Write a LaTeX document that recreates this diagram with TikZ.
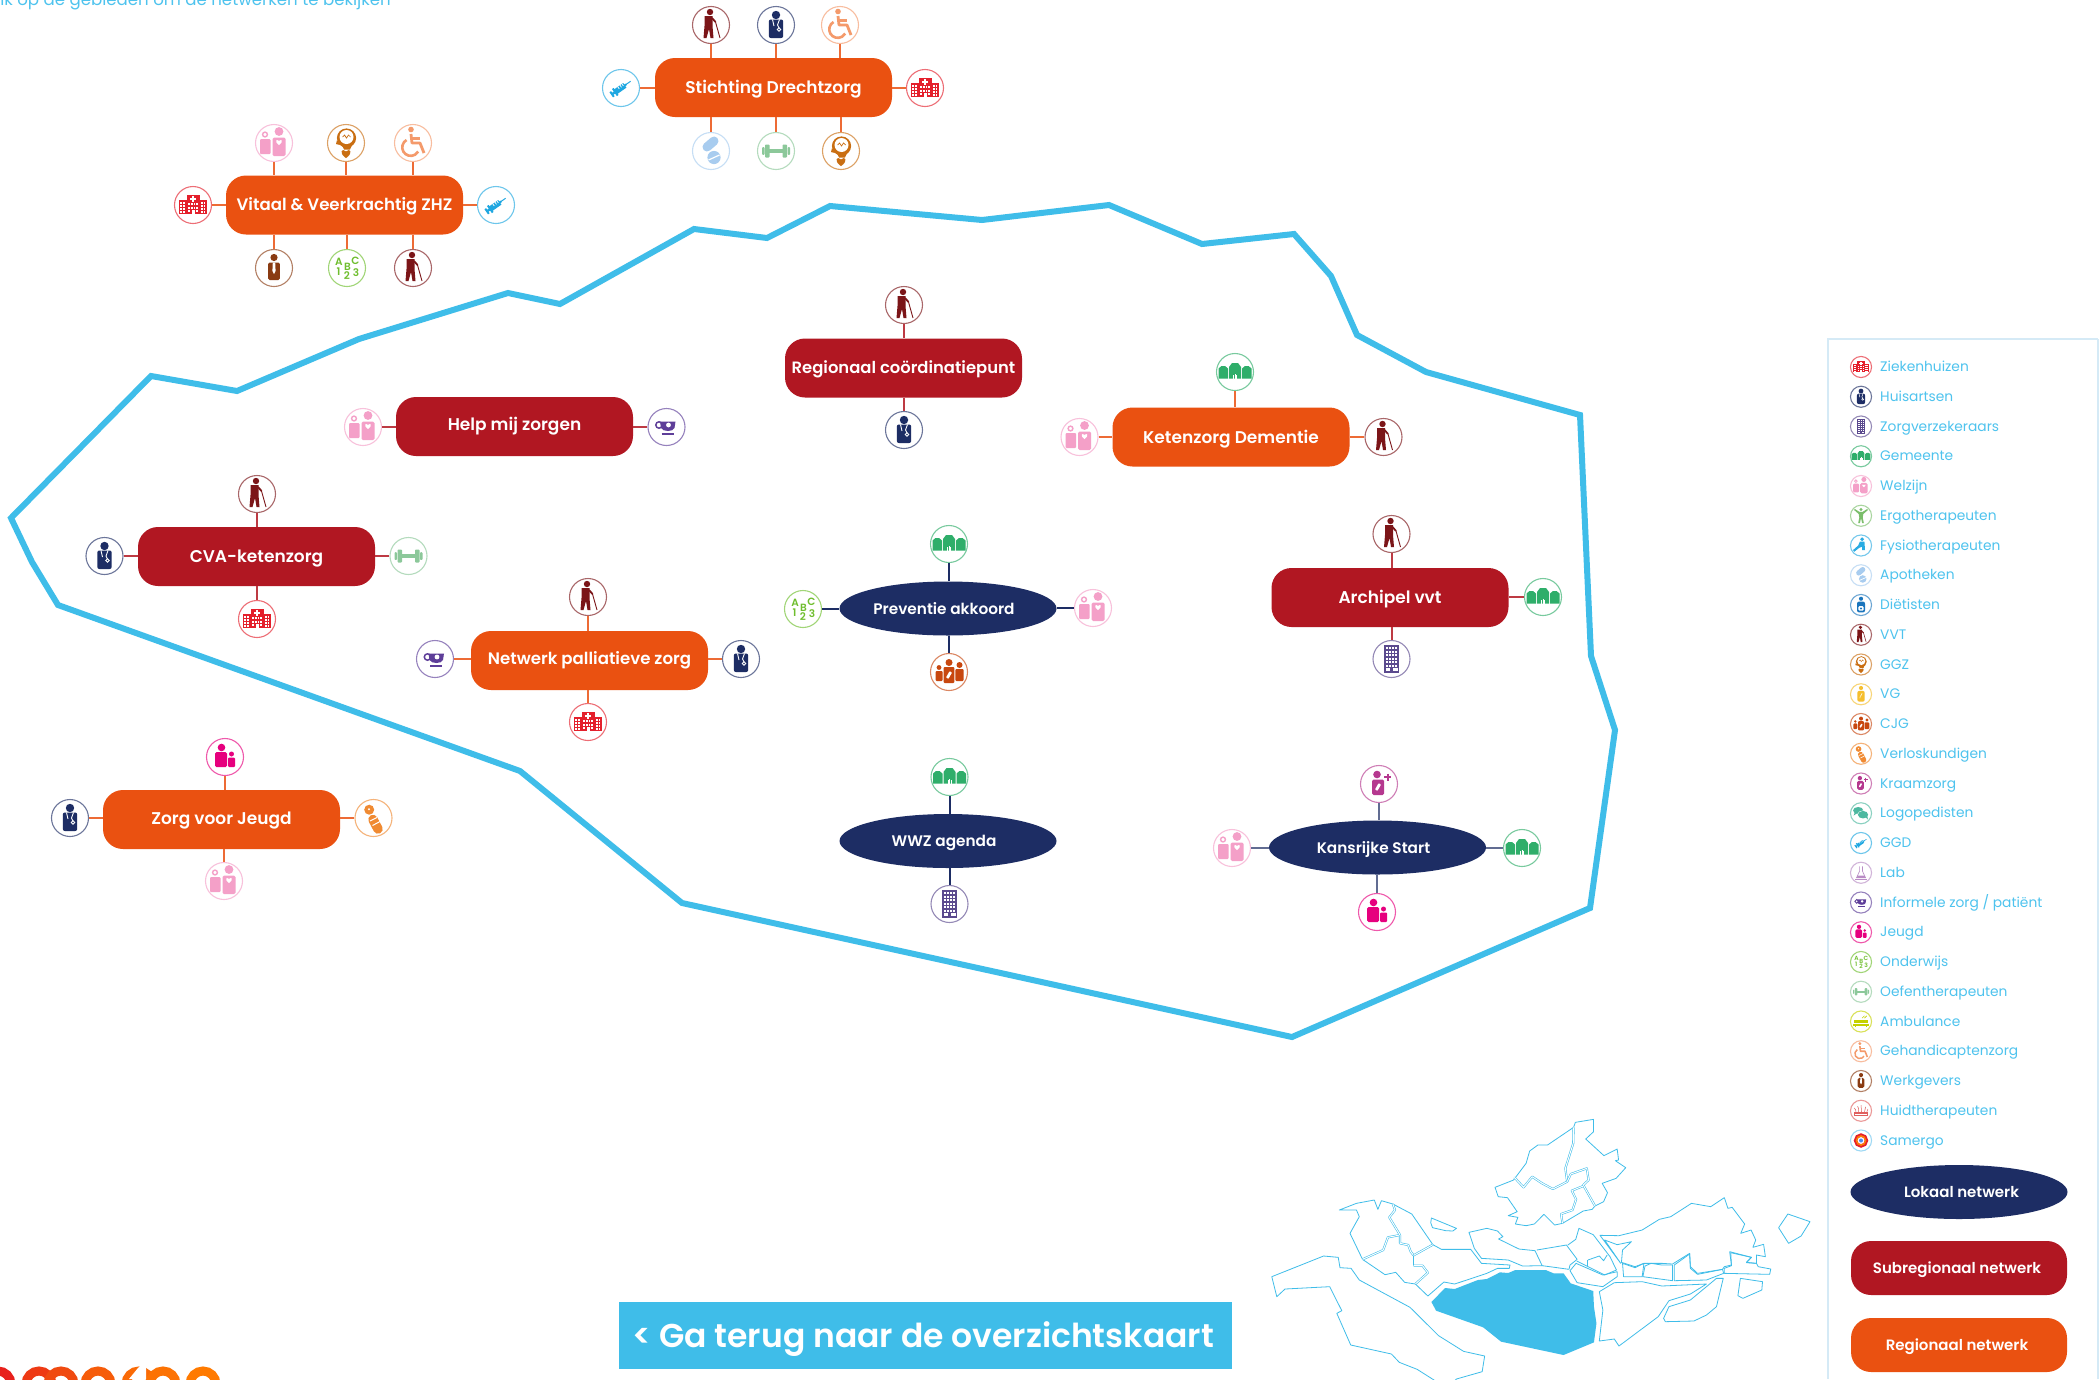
\documentclass[tikz,border=0pt]{standalone}
\usepackage{fontspec}
\setmainfont{Poppins}[BoldFont={Poppins SemiBold}]
\usetikzlibrary{shapes.geometric,calc}
\definecolor{sky}{HTML}{3FBDE9}
\definecolor{legtxt}{HTML}{4EC3EE}
\definecolor{legline}{HTML}{D5EAF6}
\definecolor{orangeb}{HTML}{EA5111}
\definecolor{crimson}{HTML}{B11722}
\definecolor{navy}{HTML}{1D2D64}
\definecolor{c-hosp}{HTML}{E4202C}
\definecolor{c-doc}{HTML}{1D2D64}
\definecolor{c-ins}{HTML}{5B4A8E}
\definecolor{c-gem}{HTML}{2FAE6A}
\definecolor{c-wel}{HTML}{F4A0C8}
\definecolor{c-ergo}{HTML}{7BBE6B}
\definecolor{c-fysio}{HTML}{2AABE2}
\definecolor{c-pill}{HTML}{A8CCEF}
\definecolor{c-diet}{HTML}{1B75BC}
\definecolor{c-vvt}{HTML}{7B1518}
\definecolor{c-ggz}{HTML}{C96E12}
\definecolor{c-vg}{HTML}{F5BE2E}
\definecolor{c-cjg}{HTML}{C8470F}
\definecolor{c-verl}{HTML}{F08A32}
\definecolor{c-kraam}{HTML}{B5388F}
\definecolor{c-logo}{HTML}{4DB8A0}
\definecolor{c-syr}{HTML}{1EA7E1}
\definecolor{c-lab}{HTML}{B98CC5}
\definecolor{c-cup}{HTML}{5E3E99}
\definecolor{c-jeu}{HTML}{E6007E}
\definecolor{c-edu}{HTML}{6FBE2E}
\definecolor{c-dumb}{HTML}{8CC89A}
\definecolor{c-amb}{HTML}{C5D100}
\definecolor{c-chair}{HTML}{F49A6B}
\definecolor{c-work}{HTML}{8A3B12}
\definecolor{c-huid}{HTML}{E0605F}
\definecolor{c-sam}{HTML}{6CC5EE}
\def\icsc{1}
\newcommand\hrt[3][white]{\fill[#1,shift={(#2,#3)}] (0,2.6) .. controls (-5,-1) and (-2.4,-4) .. (0,-1.6) .. controls (2.4,-4) and (5,-1) .. (0,2.6) -- cycle;}
\newcommand\bottle[2]{\fill[white,shift={(#1,#2)},rotate=-30,rounded corners=.6] (-1.4,-3.6) rectangle (1.4,3.6);}
\newcommand\elltx[1]{\makebox[100pt]{\makebox[0pt][c]{#1}\hspace*{8pt}}}
\tikzset{
 x=1pt,y=-1pt,
 ring/.style={circle,draw=#1,fill=white,inner sep=0pt,line width=1.1pt},
 boxo/.style={rectangle,rounded corners=20pt,fill=orangeb,minimum width=237pt,minimum height=59pt,inner sep=0pt,text=white,text height=14pt,text depth=2.5pt,font=\bfseries\fontsize{17}{20}\selectfont},
 boxr/.style={boxo,fill=crimson},
 ell/.style={ellipse,fill=navy,minimum width=217pt,minimum height=54pt,inner sep=0pt,text=white,text height=13.5pt,text depth=2.5pt,font=\bfseries\fontsize{15.3}{20}\selectfont},
 lko/.style={draw=orangeb!85!white,line width=2pt},
 lkr/.style={draw=crimson!85!white,line width=2pt},
 lkn/.style={draw=navy,line width=2pt},
 lkm/.style={draw=navy!70!white,line width=2pt},
 legt/.style={anchor=west,text=legtxt,inner sep=0pt,text height=10pt,text depth=1pt,font=\fontsize{13.8}{16}\selectfont},
 mapl/.style={draw=sky,line width=.8pt,line join=round},
 mapd/.style={draw=sky,line width=.55pt,double=white,double distance=1pt,line join=round},
 hosp/.pic={
  \fill[c-hosp] (-14,-5) rectangle (14,9);
  \fill[c-hosp] (-6.5,-10) rectangle (6.5,9);
  \fill[white] (-1,-9) rectangle (1,-3.5);
  \fill[white] (-3,-7.2) rectangle (3,-5.2);
  \foreach \wx in {-12.8,-10,7.8,10.6} \foreach \wy in {-3.4,0,3.4,6.4}
   \fill[white] (\wx,\wy) rectangle +(1.8,2);
  \foreach \wx in {-5,-2.2,.6,3.2} \foreach \wy in {-1.6,1.6}
   \fill[white] (\wx,\wy) rectangle +(1.7,2);
  \fill[white] (-4.8,5) rectangle (-3,7.2);
  \fill[white] (3,5) rectangle (4.8,7.2);
  \fill[white] (-1.5,5) rectangle (1.5,9);
 },
 doc/.pic={
  \fill[c-doc] (0,-10) circle (4.2);
  \fill[c-doc,rounded corners=2] (-7.2,-5.5) rectangle (7.2,13);
  \draw[white,line width=.9*\icsc pt] (-3.5,-5.5) -- (-2,1) (3.5,-5.5) -- (1.5,0) -- (3,3);
  \draw[white,line width=.9*\icsc pt] (3,4.5) circle (1.7);
 },
 ins/.pic={
  \fill[c-ins] (-7.5,-14) rectangle (7.5,14);
  \foreach \wx in {-6,-3,0,3} \foreach \wy in {-12,-8.5,-5,-1.5,2,5.5}
   \fill[white] (\wx,\wy) rectangle +(2,2.2);
  \fill[white] (-6,9) rectangle (-1.5,12);
  \fill[white] (1.5,9) rectangle (6,12);
 },
 gem/.pic={
  \fill[c-gem] (-16.5,6.5) -- (-16.5,-3.5) -- (-13.5,-6) -- (-10,-6) -- (-7,-3.5) -- (-7,6.5) -- cycle;
  \fill[c-gem] (16.5,6.5) -- (16.5,-3.5) -- (13.5,-6) -- (10,-6) -- (7,-3.5) -- (7,6.5) -- cycle;
  \fill[c-gem] (-6,6.5) -- (-6,-5) -- (-3,-9) -- (3,-9) -- (6,-5) -- (6,6.5) -- cycle;
  \fill[white] (-2,6.5) rectangle (-1,3);
  \fill[white] (-.4,6.5) rectangle (.6,1.5);
  \fill[white] (1.2,6.5) rectangle (2.2,3);
 },
 wel/.pic={
  \draw[c-wel,line width=1.4*\icsc pt] (-9,-8.5) circle (2.4);
  \fill[c-wel,rounded corners=1] (-14,-4) rectangle (-3.5,11);
  \fill[c-wel] (5,-11.5) circle (4.4);
  \fill[c-wel,rounded corners=1.5] (-1.5,-5.5) rectangle (11.5,13);
  \hrt{5}{-.5}
 },
 ergo/.pic={
  \fill[c-ergo] (0,-11) circle (3);
  \fill[c-ergo] (-11,-12) -- (-3,-7) -- (3,-7) -- (11,-12) -- (12,-10) -- (4,-3) -- (3,3) -- (5,13) -- (2,13) -- (0,4) -- (-2,13) -- (-5,13) -- (-3,3) -- (-4,-3) -- (-12,-10) -- cycle;
 },
 fysio/.pic={
  \fill[c-fysio] (2,-11) circle (3.4);
  \fill[c-fysio] (-2,-7) -- (6,-7) -- (7,8) -- (2,8) -- (2,2) -- (-3,4) -- (-12,11) -- (-14,8) -- (-5,0) -- cycle;
 },
 pill/.pic={
  \draw[c-pill,line width=9*\icsc pt,line cap=round] (3,-10) -- (-4,-4);
  \fill[c-pill] (3,6.5) circle (6.6);
  \draw[white,line width=1.2*\icsc pt] (-2.5,9) -- (8.5,4);
 },
 diet/.pic={
  \fill[c-diet] (0,-11) circle (3.6);
  \fill[c-diet,rounded corners=2] (-7,-6) rectangle (7,13);
  \fill[white,rounded corners=1] (-4.5,2) rectangle (4.5,10);
  \fill[c-diet] (0,6) circle (2);
 },
 vvt/.pic={
  \fill[c-vvt] (-1,-13) circle (3.2);
  \fill[c-vvt] (-6.5,-9) -- (1.5,-9) -- (1.5,1) -- (2.5,13) -- (-.5,13) -- (-2,4) -- (-4.5,13) -- (-7.5,13) -- (-6.5,1) -- cycle;
  \draw[c-vvt,line width=1.8*\icsc pt] (1,-7) -- (4.5,-3);
  \draw[c-vvt,line width=.9*\icsc pt] (4.5,-3) -- (9,13);
 },
 ggz/.pic={
  \fill[c-ggz] (.5,-5) circle (9.6);
  \fill[c-ggz] (-5,0) -- (7,0) -- (4,6.5) -- (-2,6.5) -- cycle;
  \fill[c-ggz] (-9,-3) -- (-6,2) -- (-10,1) -- cycle;
  \fill[white] (.5,-6) circle (7);
  \draw[c-ggz,line width=.7*\icsc pt] (-3.5,-6) -- (-1.5,-8) -- (.5,-5) -- (2.5,-8) -- (4.5,-6);
  \fill[c-ggz,shift={(0,11)},scale=1.6] (0,2.6) .. controls (-5,-1) and (-2.4,-4) .. (0,-1.6) .. controls (2.4,-4) and (5,-1) .. (0,2.6) -- cycle;
 },
 vg/.pic={
  \fill[c-vg] (0,-11) circle (3.6);
  \fill[c-vg,rounded corners=2] (-6.5,-6) rectangle (6.5,13);
  \draw[white,line width=.8*\icsc pt] (-2,7) .. controls (-2,0) and (2,4) .. (2,-2);
 },
 cjg/.pic={
  \fill[c-cjg] (-10,-4.5) circle (2.4);
  \fill[c-cjg,rounded corners=1] (-13.5,-1) rectangle (-6.5,9);
  \fill[c-cjg] (0,-9.5) circle (3.5);
  \fill[c-cjg,rounded corners=1] (-5.3,-5) rectangle (5.3,11);
  \fill[c-cjg] (10.5,-7) circle (3);
  \fill[c-cjg,rounded corners=1] (6.3,-3) rectangle (14.5,9);
  \bottle{0}{3}
 },
 verl/.pic={
  \fill[c-verl] (-4.3,-8.3) circle (5);
  \fill[white] (-4.5,-8.8) circle (1.2);
  \draw[c-verl,line width=9.5*\icsc pt,line cap=round] (-.5,1.5) -- (4.5,11);
  \draw[white,line width=1*\icsc pt] (-3.5,3) -- (3.5,-.5) (-1,7.5) -- (6.5,3.5);
 },
 kraam/.pic={
  \fill[c-kraam] (-2,-9.5) circle (3.8);
  \fill[c-kraam,rounded corners=1.5] (-7,-4.5) rectangle (5,11);
  \bottle{-1}{3}
  \draw[c-kraam,line width=2*\icsc pt] (8.5,-10.5) -- (8.5,-3.5) (5,-7) -- (12,-7);
 },
 logo/.pic={
  \fill[c-logo] (-5,-5) ellipse (9 and 6);
  \fill[c-logo] (-11,-1) -- (-13,4) -- (-7,0) -- cycle;
  \fill[white] (3.5,2.5) ellipse (10 and 7.4);
  \fill[c-logo] (3.5,2.5) ellipse (9 and 6.6);
  \fill[c-logo] (8,7) -- (12,11) -- (11,4) -- cycle;
 },
 syr/.pic={
  \begin{scope}[rotate=35,scale=.78]
   \fill[c-syr] (-9,-3.6) rectangle (6,3.6);
   \fill[c-syr] (6,-1.6) -- (8.5,-1) -- (8.5,1) -- (6,1.6) -- cycle;
   \fill[white] (-3,-3.6) rectangle (-2,-.4);
   \fill[white] (.5,-3.6) rectangle (1.5,-.4);
   \fill[white] (3.5,-3.6) rectangle (4.5,-.4);
   \draw[c-syr,line width=1*\icsc pt] (8,0) -- (15,0);
   \draw[c-syr,line width=2*\icsc pt] (-9,-5.5) -- (-9,5.5);
   \draw[c-syr,line width=2.4*\icsc pt] (-9,0) -- (-14,0);
   \draw[c-syr,line width=2*\icsc pt] (-14,-4) -- (-14,4);
  \end{scope}
 },
 lab/.pic={
  \draw[c-lab,line width=1.1*\icsc pt] (-2.5,-11) -- (-2.5,-3) -- (-8,9) -- (8,9) -- (2.5,-3) -- (2.5,-11);
  \fill[c-lab] (-6,5) -- (6,5) -- (8,9) -- (-8,9) -- cycle;
  \draw[c-lab,line width=1.1*\icsc pt] (-10,12) -- (10,12);
 },
 cup/.pic={
  \fill[c-cup] (-6.5,-5.5) -- (9,-5.5) -- (8,1) .. controls (6.5,5) and (-3.5,5) .. (-5.5,1) -- cycle;
  \draw[c-cup,line width=1.5*\icsc pt] (-7.5,-2) circle (3.2);
  \fill[white] (2,-2) circle (2.4);
  \draw[c-cup,line width=2*\icsc pt] (-5,7) -- (7,7);
 },
 jeu/.pic={
  \fill[c-jeu] (-3.5,-9.5) circle (3.8);
  \fill[c-jeu,rounded corners=1.5] (-10,-5) rectangle (2,10);
  \fill[c-jeu] (6.5,-3) circle (2.5);
  \fill[c-jeu,rounded corners=1] (3.2,.5) rectangle (10,10);
 },
 edulet/.style={text=c-edu,inner sep=0pt,transform shape,font=\bfseries\fontsize{10.5}{11}\selectfont},
 edu/.pic={
  \node[edulet] (-a) at (-8,-6) {A};
  \node[edulet] (-b) at (.5,-1.5) {B};
  \node[edulet] (-c) at (8.5,-7) {C};
  \node[edulet] (-d) at (-8.5,4) {1};
  \node[edulet] (-e) at (0,8) {2};
  \node[edulet] (-f) at (9,5) {3};
 },
 dumb/.pic={
  \fill[c-dumb] (-8,-1.6) rectangle (8,1.6);
  \fill[c-dumb,rounded corners=.8] (-11,-6.5) rectangle (-6.5,6.5);
  \fill[c-dumb,rounded corners=.8] (6.5,-6.5) rectangle (11,6.5);
  \fill[c-dumb,rounded corners=.8] (-14,-3.8) rectangle (-11.5,3.8);
  \fill[c-dumb,rounded corners=.8] (11.5,-3.8) rectangle (14,3.8);
 },
 amb/.pic={
  \fill[c-amb] (-12,-2) rectangle (12,2);
  \fill[c-amb] (-14,4) rectangle (14,7);
  \draw[c-amb,line width=1.2*\icsc pt] (2,-6) -- (6,-10) (6,-6) -- (10,-10);
  \draw[c-amb,line width=1.2*\icsc pt] (-10,7) -- (-10,10) (10,7) -- (10,10);
 },
 chair/.pic={
  \fill[c-chair] (-2,-13.5) circle (2.8);
  \draw[c-chair,line width=2.8*\icsc pt,line join=round] (-2,-9) -- (-1,0) -- (7,0) -- (11,10);
  \draw[c-chair,line width=2.2*\icsc pt] (-1,-4.5) -- (7,-4.5);
  \draw[c-chair,line width=2.6*\icsc pt] (-6.5,-3) arc[start angle=240,end angle=30,radius=8.5];
 },
 work/.pic={
  \fill[c-work] (0,-10.5) circle (3.6);
  \fill[c-work,rounded corners=1.5] (-5.8,-5.5) rectangle (5.8,12);
  \fill[white] (-1.2,-5.5) -- (1.2,-5.5) -- (1.6,3) -- (0,6) -- (-1.6,3) -- cycle;
 },
 huid/.pic={
  \fill[c-huid] (-13,3) rectangle (13,10);
  \draw[c-huid,line width=.9*\icsc pt] (-9,3) .. controls (-9,-2) .. (-12,-5) (-4,3) .. controls (-4,-4) .. (-6,-8) (1,3) .. controls (1,-5) .. (0,-10) (6,3) .. controls (6,-3) .. (8,-7) (10,3) .. controls (10,0) .. (12,-3);
  \draw[white,line width=.8*\icsc pt] (-11,6) -- (11,6);
 },
 sam/.pic={
  \draw[c-hosp,line width=7*\icsc pt] (0,0) circle (9);
  \draw[orange,line width=2.5*\icsc pt] (0,0) circle (8);
  \fill[white] (0,0) circle (6);
  \fill[c-sam!70!blue] (0,0) circle (3.5);
 }
}
\newcommand\ico[4][1]{%
 \def\icsc{#1}%
 \pgfmathsetlengthmacro\icd{#1*37pt}%
 \node[ring=c-#3!65!white,minimum size=\icd] (#2) at (#4) {};
 \pic[scale=#1] (#2-g) at (#2) {#3};
}
\newcommand\leg[3]{%
 \pgfmathsetmacro\ly{367+(#1-1)*29.75}%
 \ico[.57]{li#1}{#2}{1861,\ly}
 \node[legt] (lt#1) at (1880,\ly) {#3};
}
\begin{document}
\begin{tikzpicture}
\useasboundingbox (0,0) rectangle (2100,1379);
\fill[white] (0,0) rectangle (2100,1379);
% heading
\node[anchor=base east,text=legtxt,inner sep=0pt,font=\fontsize{16.6}{19}\selectfont] (head) at (391,5) {Klik op de gebieden om de netwerken te bekijken};
% region outline
\draw[sky,line width=6pt,line join=miter] (11,518) -- (151,376) -- (237,391) -- (359,339) -- (508,293) -- (560,304) -- (694,229) -- (767,238) -- (830,206) -- (982,220) -- (1109,205) -- (1202,244) -- (1294,234) -- (1331,276) -- (1357,335) -- (1426,372) -- (1580,415) -- (1591,656) -- (1615,730) -- (1590,908) -- (1292,1037) -- (682,903) -- (520,771) -- (58,605) -- (32,562) -- cycle;
% Stichting Drechtzorg
\node[boxo] (sd) at (773.5,87.5) {Stichting Drechtzorg};
\ico{sd1}{vvt}{711,25}
\ico{sd2}{doc}{776,25}
\ico{sd3}{chair}{840,25}
\ico{sd4}{syr}{621,88}
\ico{sd5}{hosp}{925,88}
\ico{sd6}{pill}{711,151}
\ico{sd7}{dumb}{776,151}
\ico{sd8}{ggz}{841,151}
\draw[lko] (sd1) -- (sd1 |- sd.north);
\draw[lko] (sd2) -- (sd2 |- sd.north);
\draw[lko] (sd3) -- (sd3 |- sd.north);
\draw[lko] (sd4) -- (sd4 -| sd.west);
\draw[lko] (sd5) -- (sd5 -| sd.east);
\draw[lko] (sd6) -- (sd6 |- sd.south);
\draw[lko] (sd7) -- (sd7 |- sd.south);
\draw[lko] (sd8) -- (sd8 |- sd.south);
% Vitaal
\node[boxo,font=\bfseries\fontsize{16.6}{20}\selectfont] (vv) at (344.5,205) {Vitaal \& Veerkrachtig ZHZ};
\ico{vv1}{wel}{274,143}
\ico{vv2}{ggz}{346,143}
\ico{vv3}{chair}{413,143}
\ico{vv4}{hosp}{193,205}
\ico{vv5}{syr}{496,205}
\ico{vv6}{work}{274,268}
\ico{vv7}{edu}{347,268}
\ico{vv8}{vvt}{413,268}
\draw[lko] (vv1) -- (vv1 |- vv.north);
\draw[lko] (vv2) -- (vv2 |- vv.north);
\draw[lko] (vv3) -- (vv3 |- vv.north);
\draw[lko] (vv4) -- (vv4 -| vv.west);
\draw[lko] (vv5) -- (vv5 -| vv.east);
\draw[lko] (vv6) -- (vv6 |- vv.south);
\draw[lko] (vv7) -- (vv7 |- vv.south);
\draw[lko] (vv8) -- (vv8 |- vv.south);
% Help mij zorgen
\node[boxr,text height=9.5pt] (hm) at (514.5,426.5) {Help mij zorgen};
\ico{hm1}{wel}{363,427}
\ico{hm2}{cup}{666.5,427}
\draw[lkr] (hm1) -- (hm1 -| hm.west);
\draw[lkr] (hm2) -- (hm2 -| hm.east);
% Regionaal coordinatiepunt
\node[boxr,font=\bfseries\fontsize{16.4}{20}\selectfont] (rc) at (903.5,368) {Regionaal coördinatiepunt};
\ico{rc1}{vvt}{904,305}
\ico{rc2}{doc}{904,430}
\draw[lkr] (rc1) -- (rc1 |- rc.north);
\draw[lkr] (rc2) -- (rc2 |- rc.south);
% Ketenzorg Dementie
\node[boxo,text height=15.5pt] (kd) at (1231,437) {Ketenzorg Dementie};
\ico{kd1}{gem}{1235,372}
\ico{kd2}{wel}{1079.5,437}
\ico{kd3}{vvt}{1383.5,437}
\draw[lko] (kd1) -- (kd1 |- kd.north);
\draw[lko] (kd2) -- (kd2 -| kd.west);
\draw[lko] (kd3) -- (kd3 -| kd.east);
% CVA
\node[boxr] (cv) at (256.5,556.5) {CVA-ketenzorg};
\ico{cv1}{vvt}{257,494}
\ico{cv2}{doc}{104.5,556}
\ico{cv3}{dumb}{408.5,556}
\ico{cv4}{hosp}{257,619}
\draw[lkr] (cv1) -- (cv1 |- cv.north);
\draw[lkr] (cv2) -- (cv2 -| cv.west);
\draw[lkr] (cv3) -- (cv3 -| cv.east);
\draw[lkr] (cv4) -- (cv4 |- cv.south);
% Netwerk palliatieve zorg
\node[boxo,text height=11pt,font=\bfseries\fontsize{16.6}{20}\selectfont] (np) at (589.5,660.5) {Netwerk palliatieve zorg};
\ico{np1}{vvt}{588,597}
\ico{np2}{cup}{435,659}
\ico{np3}{doc}{741,659}
\ico{np4}{hosp}{588,722}
\draw[lko] (np1) -- (np1 |- np.north);
\draw[lko] (np2) -- (np2 -| np.west);
\draw[lko] (np3) -- (np3 -| np.east);
\draw[lko] (np4) -- (np4 |- np.south);
% Preventie akkoord
\node[ell] (pa) at (948,608.5) {\elltx{Preventie akkoord}};
\ico{pa1}{gem}{949,544}
\ico{pa2}{edu}{803,609}
\ico{pa3}{wel}{1093,608}
\ico{pa4}{cjg}{949,672}
\draw[lkn] (pa1) -- (pa1 |- pa.north);
\draw[lkn] (pa2) -- (pa2 -| pa.west);
\draw[lkn] (pa3) -- (pa3 -| pa.east);
\draw[lkn] (pa4) -- (pa4 |- pa.south);
% Archipel
\node[boxr] (ar) at (1390,597.5) {Archipel vvt};
\ico{ar1}{vvt}{1391.5,534}
\ico{ar2}{gem}{1543,597}
\ico{ar3}{ins}{1391.5,659}
\draw[lkr] (ar1) -- (ar1 |- ar.north);
\draw[lkr] (ar2) -- (ar2 -| ar.east);
\draw[lkr] (ar3) -- (ar3 |- ar.south);
% WWZ agenda
\node[ell] (ww) at (948,841) {\elltx{WWZ agenda}};
\ico{ww1}{gem}{949.5,777}
\ico{ww2}{ins}{949.5,904}
\draw[lkn] (ww1) -- (ww1 |- ww.north);
\draw[lkn] (ww2) -- (ww2 |- ww.south);
% Kansrijke Start
\node[ell] (ks) at (1377.5,847.5) {\elltx{Kansrijke Start}};
\ico{ks1}{kraam}{1379,784}
\ico{ks2}{wel}{1232,848}
\ico{ks3}{gem}{1522,848}
\ico{ks4}{jeu}{1377,912}
\draw[lkm] (ks1) -- (ks1 |- ks.north);
\draw[lkm] (ks2) -- (ks2 -| ks.west);
\draw[lkm] (ks3) -- (ks3 -| ks.east);
\draw[lkm] (ks4) -- (ks4 |- ks.south);
% Zorg voor Jeugd
\node[boxo,text height=11.5pt] (zj) at (221.5,819.5) {Zorg voor Jeugd};
\ico{zj1}{jeu}{225,757}
\ico{zj2}{doc}{70,818}
\ico{zj3}{verl}{373.5,818}
\ico{zj4}{wel}{224,881}
\draw[lko] (zj1) -- (zj1 |- zj.north);
\draw[lko] (zj2) -- (zj2 -| zj.west);
\draw[lko] (zj3) -- (zj3 -| zj.east);
\draw[lko] (zj4) -- (zj4 |- zj.south);
% legend
\draw[legline,line width=1.2pt] (2098,339) -- (1828,339) -- (1828,1379);
\draw[legline,line width=1.2pt] (2098,339) -- (2098,1379);
\leg{1}{hosp}{Ziekenhuizen}
\leg{2}{doc}{Huisartsen}
\leg{3}{ins}{Zorgverzekeraars}
\leg{4}{gem}{Gemeente}
\leg{5}{wel}{Welzijn}
\leg{6}{ergo}{Ergotherapeuten}
\leg{7}{fysio}{Fysiotherapeuten}
\leg{8}{pill}{Apotheken}
\leg{9}{diet}{Diëtisten}
\leg{10}{vvt}{VVT}
\leg{11}{ggz}{GGZ}
\leg{12}{vg}{VG}
\leg{13}{cjg}{CJG}
\leg{14}{verl}{Verloskundigen}
\leg{15}{kraam}{Kraamzorg}
\leg{16}{logo}{Logopedisten}
\leg{17}{syr}{GGD}
\leg{18}{lab}{Lab}
\leg{19}{cup}{Informele zorg / patiënt}
\leg{20}{jeu}{Jeugd}
\leg{21}{edu}{Onderwijs}
\leg{22}{dumb}{Oefentherapeuten}
\leg{23}{amb}{Ambulance}
\leg{24}{chair}{Gehandicaptenzorg}
\leg{25}{work}{Werkgevers}
\leg{26}{huid}{Huidtherapeuten}
\leg{27}{sam}{Samergo}
\node[ell,text height=12pt,text depth=2pt,font=\bfseries\fontsize{15}{17}\selectfont] (ln) at (1959,1192) {\hspace*{5pt}Lokaal netwerk};
\node[boxr,minimum width=216pt,minimum height=54pt,text height=12pt,text depth=2pt,font=\bfseries\fontsize{15}{17}\selectfont] (sn) at (1959,1268) {Subregionaal netwerk\hspace*{4pt}};
\node[boxo,minimum width=216pt,minimum height=54pt,text height=12pt,text depth=2pt,font=\bfseries\fontsize{15}{17}\selectfont] (rn) at (1959,1345) {Regionaal netwerk\hspace*{4pt}};
% button
\node[rectangle,fill=sky,text=white,minimum width=613pt,minimum height=67pt,inner sep=0pt,text height=27pt,text depth=3pt,font=\bfseries\fontsize{33}{38}\selectfont] (back) at (925.5,1335.5) {< Ga terug naar de overzichtskaart\hspace*{5pt}};
% logo
\foreach \cx/\col in {-2/E8201C,39/EE3A14,61/F04A10,98/F65C0A,139/FA6A06,163/FC7203,203/FF7A00}{
 \definecolor{lgc}{HTML}{\col}
 \draw[lgc,line width=9pt] (\cx,1384) circle (13);
}
\fill[white] (146,1360) -- (146,1379) -- (129,1379) -- (138,1368) -- cycle;
% map
\begin{scope}[shift={(1260,1100)},xscale=.35714,yscale=.33333]
\fill[sky] (480,606) -- (518,564) -- (545,567) -- (610,540) -- (635,537) -- (672,517) -- (695,519) -- (715,510) -- (800,510) -- (822,520) -- (850,520) -- (870,550) -- (933,573) -- (935,620) -- (942,670) -- (935,727) -- (850,765) -- (675,725) -- (625,682) -- (493,632) -- cycle;
\draw[mapl] (33,530) -- (178,468) -- (219,472) -- (224,503) -- (255,505) -- (278,540) -- (420,622) -- (500,707) -- (570,754) -- (629,768) -- (622,815) -- (550,837) -- (530,860) -- (490,842) -- (440,808) -- (390,787) -- (368,762) -- (254,735) -- (215,640) -- (229,632) -- (195,560) -- (70,567) -- (47,590) -- cycle;
\draw[mapl] (222,330) -- (270,310) -- (320,300) -- (330,328) -- (340,302) -- (372,312) -- (425,342) -- (484,434) -- (430,466) -- (430,497) -- (455,497) -- (470,518) -- (435,552) -- (405,547) -- (380,517) -- (350,524) -- (287,478) -- (252,400) -- (278,350) -- (270,330) -- cycle;
\draw[mapd] (372,312) -- (378,330) -- (362,352) -- (392,405) -- (358,412) -- (345,450) -- (287,478);
\draw[mapd] (392,405) -- (392,430) -- (415,435) -- (422,455) -- (430,466);
\draw[mapd] (430,466) -- (484,434);
\draw[mapd] (430,497) -- (455,497) -- (470,518) -- (435,552);
\draw[mapl] (480,354) -- (550,385) -- (540,393) -- (520,392) -- (483,383) -- (478,368) -- cycle;
\draw[mapl] (435,552) -- (470,588) -- (515,546) -- (545,552) -- (635,520) -- (665,505) -- (698,505) -- (700,495) -- (620,490) -- (590,448) -- (508,448) -- (484,434);
\draw[mapl] (658,262) -- (710,240) -- (745,190) -- (755,153) -- (778,135) -- (805,135) -- (878,82) -- (883,67) -- (934,58) -- (934,95) -- (912,117) -- (963,167) -- (1000,147) -- (1004,180) -- (995,182) -- (1024,203) -- (997,235) -- (958,250) -- (973,278) -- (962,305) -- (938,318) -- (930,328) -- (905,333) -- (847,370) -- (825,375) -- (795,343) -- (768,372) -- (745,377) -- (715,372) -- (722,352) -- (695,347) -- (720,335) -- (693,293) -- (667,290) -- cycle;
\draw[mapd] (712,232) -- (738,262) -- (762,230) -- (790,250) -- (820,267) -- (860,245) -- (855,205) -- (877,130) -- (878,82);
\draw[mapd] (860,245) -- (870,222) -- (915,205) -- (920,240) -- (905,255) -- (938,318);
\draw[mapd] (905,258) -- (873,272) -- (885,298) -- (875,330) -- (843,342) -- (847,370);
\draw[mapl] (585,397) -- (635,385) -- (665,393) -- (680,410) -- (668,417) -- (725,447) -- (770,452) -- (790,497) -- (735,498) -- (695,480) -- (620,475) -- (600,445) -- cycle;
\draw[mapl] (775,450) -- (858,435) -- (888,478) -- (868,495) -- (865,508) -- (825,502) -- (790,497);
\draw[mapl] (862,435) -- (884,418) -- (893,385) -- (933,404) -- (980,470) -- (998,510) -- (965,525) -- (887,483);
\draw[mapl] (918,480) -- (950,468) -- (962,482) -- (972,465);
\draw[mapl] (918,480) -- (918,497);
\draw[mapl] (868,512) -- (885,490) -- (960,525) -- (1000,515) -- (1000,530) -- (960,560) -- (888,548) -- cycle;
\draw[mapl] (952,406) -- (1005,407) -- (1070,390) -- (1118,358) -- (1150,350) -- (1208,310) -- (1262,320) -- (1300,293) -- (1310,325) -- (1322,322) -- (1357,372) -- (1346,400) -- (1375,390) -- (1388,420) -- (1380,442) -- (1410,433) -- (1415,470) -- (1390,465) -- (1390,490) -- (1362,487) -- (1376,472) -- (1315,455) -- (1320,495) -- (1300,500) -- (1295,508) -- (1225,520) -- (1205,500) -- (1203,460) -- (1155,492) -- (1125,490) -- (1095,490) -- (1075,490) -- (1050,500) -- (1012,487) -- (1015,450) -- (1040,425) -- (1000,434) -- (965,420) -- (1010,490) -- cycle;
\draw[mapl] (1015,490) -- (1050,503) -- (1075,490) -- (1070,530) -- (1018,530) -- cycle;
\draw[mapl] (1078,498) -- (1095,490) -- (1125,495) -- (1155,495) -- (1155,542) -- (1072,530) -- cycle;
\draw[mapl] (1160,495) -- (1203,462) -- (1205,505) -- (1225,523) -- (1295,508) -- (1298,520) -- (1250,540) -- (1160,542) -- cycle;
\draw[mapl] (1300,505) -- (1320,497) -- (1318,458) -- (1376,472) -- (1362,488) -- (1390,490) -- (1395,500) -- (1430,507) -- (1427,523) -- (1300,520) -- cycle;
\draw[mapl] (950,575) -- (992,548) -- (1070,545) -- (1125,558) -- (1250,552) -- (1205,582) -- (1145,602) -- (1115,650) -- (1005,738) -- (992,717) -- (950,723) -- (960,630) -- cycle;
\draw[mapl] (1130,655) -- (1145,620) -- (1205,600) -- (1250,560) -- (1278,535) -- (1297,535) -- (1278,620) -- (1250,645) -- (1215,663) -- (1135,665) -- cycle;
\draw[mapl] (1345,535) -- (1407,545) -- (1405,570) -- (1352,595) -- (1338,587) -- cycle;
\draw[mapl] (1478,342) -- (1540,365) -- (1515,408) -- (1480,430) -- (1452,383) -- cycle;
\end{scope}
\end{tikzpicture}
\end{document}
